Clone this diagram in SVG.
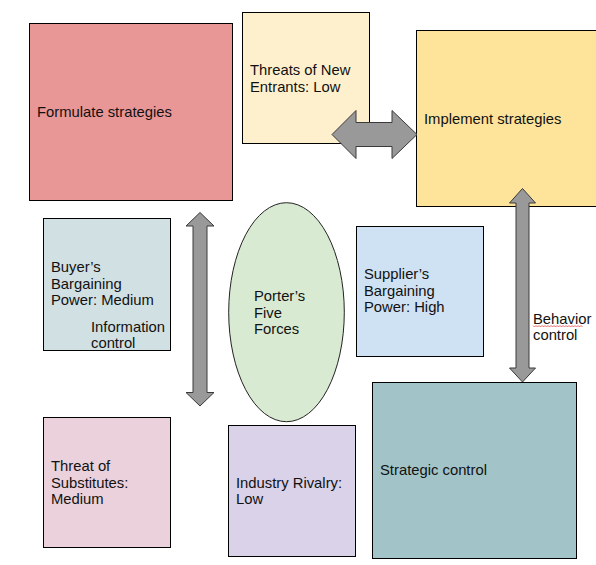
<svg xmlns="http://www.w3.org/2000/svg" width="596" height="565" viewBox="0 0 596 565">
<style>
.box{stroke:#000;stroke-width:1}
.t{font-family:"Liberation Sans",Arial,sans-serif;font-size:14.8px;fill:#111}
.arr{fill:#999;stroke:#3a3a3a;stroke-width:1;stroke-linejoin:miter}
</style>
<rect width="596" height="565" fill="#fff"/>
<g id="formulate">
<rect class="box" x="29.5" y="23.5" width="203" height="177" fill="#E99696"/>
<text class="t" x="37" y="117">Formulate strategies</text>
</g>
<g id="new-entrants">
<rect class="box" x="242.5" y="12.5" width="127" height="131" fill="#FEF0CD"/>
<text class="t" x="250" y="75">Threats of New</text>
<text class="t" x="250" y="92">Entrants: Low</text>
</g>
<g id="implement">
<rect class="box" x="416.5" y="30.5" width="182" height="176" fill="#FEE49A"/>
<text class="t" x="424" y="123.5">Implement strategies</text>
</g>
<g id="buyer">
<rect class="box" x="43.5" y="218.5" width="127" height="132" fill="#D1E0E3"/>
<text class="t" x="51" y="272">Buyer’s</text>
<text class="t" x="51" y="288.5">Bargaining</text>
<text class="t" x="51" y="305">Power: Medium</text>
<text class="t" x="91" y="331.5">Information</text>
<text class="t" x="91" y="348">control</text>
</g>
<g id="porter">
<ellipse cx="286.5" cy="312.2" rx="57.8" ry="109.5" fill="#D9EAD3" stroke="#222" stroke-width="1"/>
<text class="t" x="254" y="301">Porter’s</text>
<text class="t" x="254" y="317.5">Five</text>
<text class="t" x="254" y="334">Forces</text>
</g>
<g id="supplier">
<rect class="box" x="356.5" y="226.5" width="127" height="130" fill="#CFE2F3"/>
<text class="t" x="364" y="279">Supplier’s</text>
<text class="t" x="364" y="295.5">Bargaining</text>
<text class="t" x="364" y="312">Power: High</text>
</g>
<g id="substitutes">
<rect class="box" x="43.5" y="417.5" width="127" height="130" fill="#EAD1DC"/>
<text class="t" x="51" y="471">Threat of</text>
<text class="t" x="51" y="487.5">Substitutes:</text>
<text class="t" x="51" y="504">Medium</text>
</g>
<g id="rivalry">
<rect class="box" x="228.5" y="425.5" width="127" height="131" fill="#D9D2E9"/>
<text class="t" x="236" y="487.5">Industry Rivalry:</text>
<text class="t" x="236" y="504">Low</text>
</g>
<g id="strategic-control">
<rect class="box" x="372.5" y="382.5" width="204" height="176" fill="#A2C4C9"/>
<text class="t" x="380" y="475">Strategic control</text>
</g>
<g id="connectors">
<polygon class="arr" points="332,134.5 356,110.5 356,122.5 392,122.5 392,110.5 417,134.5 392,158.5 392,146.5 356,146.5 356,158.5"/>
<polygon class="arr" points="200,212.5 214,226 207,226 207,392.5 214,392.5 200,406 186,392.5 193,392.5 193,226 186,226"/>
<polygon class="arr" points="522.5,188.5 535.5,203 529,203 529,368 535.5,368 522.5,382 509.5,368 516,368 516,203 509.5,203"/>
<g id="behavior-label">
<text class="t" x="533" y="323.5">Behavior</text>
<text class="t" x="533" y="340">control</text>
<path d="M533,325.5 l1.5,1.5 l1.5,-1.5 l1.5,1.5 l1.5,-1.5 l1.5,1.5 l1.5,-1.5 l1.5,1.5 l1.5,-1.5 l1.5,1.5 l1.5,-1.5 l1.5,1.5 l1.5,-1.5 l1.5,1.5 l1.5,-1.5 l1.5,1.5 l1.5,-1.5 l1.5,1.5 l1.5,-1.5 l1.5,1.5 l1.5,-1.5 l1.5,1.5 l1.5,-1.5 l1.5,1.5 l1.5,-1.5 l1.5,1.5 l1.5,-1.5 l1.5,1.5 l1.5,-1.5 l1.5,1.5 l1.5,-1.5 l1.5,1.5 l1.5,-1.5 l1.5,1.5" fill="none" stroke="#e03030" stroke-width="0.7"/>
</g>
</g>
</svg>
